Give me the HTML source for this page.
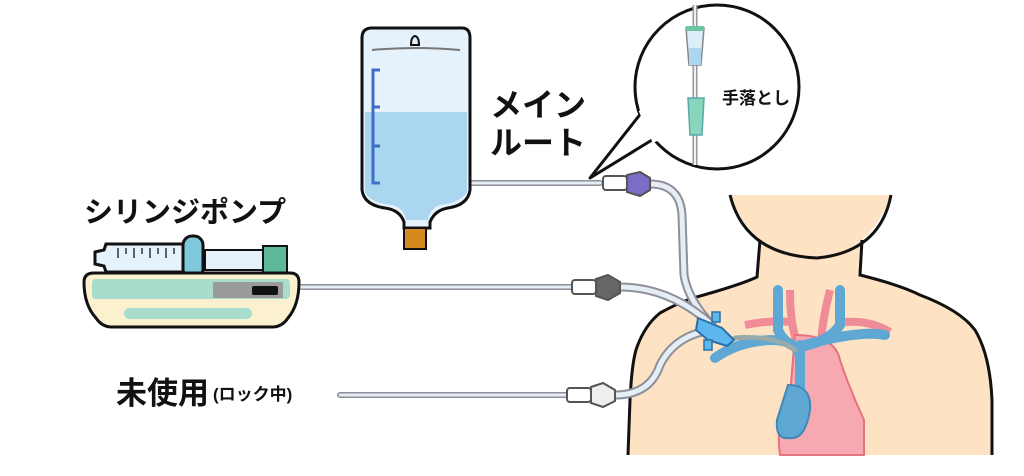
<!DOCTYPE html>
<html><head><meta charset="utf-8"><style>
html,body{margin:0;padding:0;background:#fff}
svg{display:block}
text{font-family:"Liberation Sans","Noto Sans CJK JP",sans-serif;font-weight:bold;fill:#111}
</style></head><body>
<svg width="1024" height="476" viewBox="0 0 1024 476" xmlns="http://www.w3.org/2000/svg">
<!-- body -->
<path d="M730,195 L891,195 Q880,225 862,240 L860,275 Q900,285 920,295 Q960,310 975,330 Q990,355 992,400 L992,455 L628,455 L630,400 Q632,360 637,347 Q645,325 660,313 Q680,302 693,298 Q740,285 757,277 L760,240 Q740,222 730,195 Z" fill="#fde3c3"/>
<path d="M730,195 Q745,255 817,258 Q880,252 891,195" fill="none" stroke="#111" stroke-width="3"/>
<path d="M760,240 L757,277 Q740,285 693,298 Q680,302 660,313 Q645,325 637,347 Q632,360 630,400 L628,455" fill="none" stroke="#111" stroke-width="3"/>
<path d="M862,240 L860,275 Q900,285 920,295 Q960,310 975,330 Q990,355 992,400 L992,455" fill="none" stroke="#111" stroke-width="3"/>
<!-- arteries -->
<path d="M790,290 Q790,330 800,350 M830,290 Q820,330 822,345 M745,325 Q770,320 790,322 M845,322 Q870,320 890,332" fill="none" stroke="#f08c98" stroke-width="8"/>
<path d="M795,335 Q835,335 840,360 Q850,390 864,420 L864,455 L780,455 Q775,420 790,395 Z" fill="#f6a9b0" stroke="#e57380" stroke-width="2"/>
<!-- veins -->
<g fill="none" stroke="#5fa8d3" stroke-width="10" stroke-linecap="round">
<path d="M778,290 L778,330 Q785,345 800,348 M840,290 L840,325 Q830,340 805,346 M715,358 Q740,340 775,340 Q800,342 800,360 M805,345 Q860,330 885,335 M800,345 L800,395"/>
</g>
<path d="M788,385 Q812,385 810,410 Q805,440 790,438 Q775,440 777,420 Z" fill="#5fa8d3" stroke="#3f88b8" stroke-width="2"/>
<!-- tubes -->
<g fill="none" stroke-linecap="round">
<path d="M650,184 Q680,184 682,215 L684,275 Q688,300 712,325" stroke="#8e9099" stroke-width="9"/>
<path d="M650,184 Q680,184 682,215 L684,275 Q688,300 712,325" stroke="#e6eef5" stroke-width="5"/>
<path d="M620,287 Q670,287 712,325" stroke="#8e9099" stroke-width="9"/>
<path d="M620,287 Q670,287 712,325" stroke="#e6eef5" stroke-width="5"/>
<path d="M615,395 Q650,395 660,365 Q675,335 712,330" stroke="#8e9099" stroke-width="9"/>
<path d="M615,395 Q650,395 660,365 Q675,335 712,330" stroke="#e6eef5" stroke-width="5"/>
<path d="M470,183 L600,183" stroke="#8e9099" stroke-width="6"/><path d="M470,183 L600,183" stroke="#e6eef5" stroke-width="3"/>
<path d="M300,287 L572,287" stroke="#8e9099" stroke-width="6"/><path d="M300,287 L572,287" stroke="#e6eef5" stroke-width="3"/>
<path d="M340,395 L567,395" stroke="#8e9099" stroke-width="6"/><path d="M340,395 L567,395" stroke="#e6eef5" stroke-width="3"/>
<path d="M735,338 Q775,335 795,350" stroke="#9aa" stroke-width="5"/>
</g>
<!-- catheter hub -->
<path d="M698,318 L722,328 L734,340 L727,346 L708,340 L696,330 Z" fill="#5cb8ec" stroke="#2a6fa8" stroke-width="2"/>
<rect x="712" y="312" width="8" height="10" fill="#5cb8ec" stroke="#2a6fa8" stroke-width="1.5"/>
<rect x="704" y="340" width="8" height="10" fill="#5cb8ec" stroke="#2a6fa8" stroke-width="1.5"/>
<!-- connectors -->
<g stroke="#555" stroke-width="2">
<rect x="603" y="176" width="24" height="14" rx="3" fill="#fff"/>
<path d="M627,175 L640,172 L650,178 L650,190 L640,196 L627,192 Z" fill="#7b6cc6"/>
<rect x="572" y="280" width="24" height="14" rx="3" fill="#fff"/>
<path d="M596,279 L608,275 L620,282 L620,293 L608,300 L596,296 Z" fill="#666"/>
<rect x="567" y="388" width="24" height="14" rx="3" fill="#fff"/>
<path d="M591,387 L603,383 L615,390 L615,401 L603,407 L591,403 Z" fill="#eee"/>
</g>
<!-- IV bag -->
<path d="M372,28 L462,28 Q470,28 470,38 L470,190 Q468,205 448,208 Q435,210 430,222 L430,228 L404,228 L404,222 Q400,210 385,208 Q364,205 362,190 L362,38 Q362,28 372,28 Z" fill="#e6f2fb" stroke="#111" stroke-width="3"/>
<path d="M365,112 L467,112 L467,192 Q460,203 440,205 Q430,208 428,220 L406,220 Q404,208 392,205 Q370,203 365,192 Z" fill="#aad6f0"/>
<path d="M372,50 Q415,46 460,50" stroke="#777" stroke-width="2" fill="none"/>
<path d="M411,45 Q411,37 415,36 Q419,37 419,45 Z" fill="none" stroke="#111" stroke-width="2"/>
<path d="M380,70 L373,70 L373,183 L380,183 M373,107 L380,107 M373,146 L380,146" stroke="#3f6fc4" stroke-width="3" fill="none"/>
<rect x="404" y="228" width="22" height="21" fill="#d48a1e" stroke="#111" stroke-width="2"/>
<!-- bubble -->
<circle cx="717" cy="87" r="82" fill="#fff" stroke="#111" stroke-width="3"/>
<path d="M642,112 L590,178 L652,140" fill="#fff" stroke="#111" stroke-width="3" stroke-linejoin="round"/>
<path d="M641,110 L655,142" stroke="#fff" stroke-width="5"/>
<path d="M695,5 L695,165" stroke="#999" stroke-width="5"/><path d="M695,5 L695,165" stroke="#eef" stroke-width="2"/>
<path d="M686,28 L704,28 L701,65 L689,65 Z" fill="#dceefa" stroke="#888" stroke-width="1.5"/>
<rect x="686" y="26" width="18" height="5" fill="#6cc4a4"/>
<path d="M689,48 L701,48 L701,65 L689,65 Z" fill="#aad6f0"/>
<path d="M688,98 L704,98 L702,135 L690,135 Z" fill="#8ad6bc" stroke="#5aa" stroke-width="1.5"/>
<text x="722" y="104" font-size="17">手落とし</text>
<!-- labels -->
<text x="490" y="116" font-size="32">メイン</text>
<text x="490" y="154" font-size="32">ルート</text>
<text x="84" y="222" font-size="29">シリンジポンプ</text>
<text x="116" y="404" font-size="31">未使用</text>
<text x="213" y="400" font-size="17">(ロック中)</text>
<!-- syringe pump -->
<g stroke="#111" stroke-width="3">
<path d="M95,252 L104,250 L106,244 L188,244 L188,272 L106,272 L104,266 L95,264 Z" fill="#e6f2fb"/>
<rect x="205" y="250" width="60" height="20" fill="#e6f2fb" stroke-width="2"/>
<rect x="183" y="236" width="20" height="42" rx="9" fill="#7ec9dc"/>
<rect x="263" y="246" width="24" height="28" fill="#5db89c" stroke-width="2"/>
<path d="M84,282 Q84,273 94,273 L290,273 Q299,273 299,282 Q299,305 288,318 Q282,327 272,327 L112,327 Q102,327 96,318 Q84,305 84,282 Z" fill="#fbf1cf"/>
</g>
<path d="M118,248 L118,258 M126,248 L126,254 M134,248 L134,258 M142,248 L142,254 M150,248 L150,258 M158,248 L158,254 M166,248 L166,258 M174,248 L174,254" stroke="#333" stroke-width="1.5"/>
<rect x="92" y="279" width="198" height="20" rx="4" fill="#a8dccd"/>
<rect x="213" y="282" width="70" height="16" fill="#9a9a9a"/>
<rect x="252" y="286" width="26" height="9" rx="2" fill="#111"/>
<rect x="124" y="308" width="128" height="11" rx="5" fill="#a8dccd"/>
</svg>
</body></html>
